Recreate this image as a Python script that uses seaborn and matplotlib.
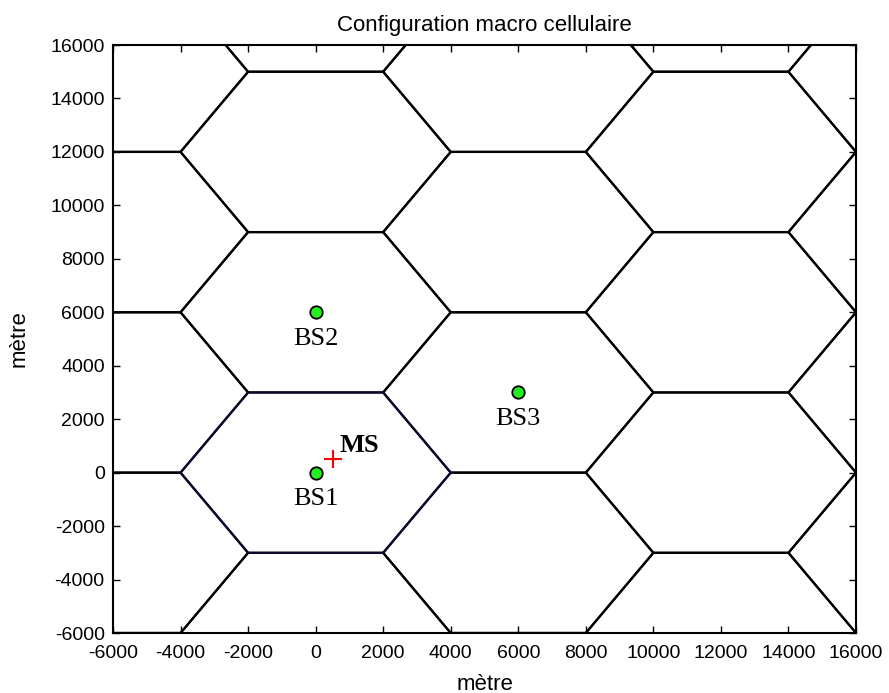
import numpy as np
import pandas as pd
import matplotlib
matplotlib.use("Agg")
import matplotlib.pyplot as plt
import seaborn as sns

# ---- data ----
hex_radius = 4000          # half width of a cell (flat-top)
hex_half_height = 3000     # half height of a cell
col_x_even = [0, 12000]
rows_even = [-6000, 0, 6000, 12000, 18000]
col_x_odd = [-6000, 6000, 18000]
rows_odd = [-9000, -3000, 3000, 9000, 15000]

bs_names = ["BS1", "BS2", "BS3"]
bs_x = [0, 0, 6000]
bs_y = [0, 6000, 3000]
ms_x = [500]
ms_y = [500]
ms_name = "MS"

ticks = list(range(-6000, 16001, 2000))

# ---- build hexagon vertex table ----
centers = [(x, y) for x in col_x_even for y in rows_even] + \
          [(x, y) for x in col_x_odd for y in rows_odd]
dx = [-hex_radius, -hex_radius / 2, hex_radius / 2, hex_radius, hex_radius / 2, -hex_radius / 2, -hex_radius]
dy = [0, hex_half_height, hex_half_height, 0, -hex_half_height, -hex_half_height, 0]
rows = []
for i, (cx, cy) in enumerate(centers):
    for j in range(len(dx)):
        rows.append({"cell": i, "order": j, "x": cx + dx[j], "y": cy + dy[j],
                     "home": (cx, cy) == (bs_x[0], bs_y[0])})
hexdf = pd.DataFrame(rows)

sns.set_style("ticks")
plt.rcParams["font.family"] = ["Liberation Sans", "DejaVu Sans"]
plt.rcParams["axes.unicode_minus"] = False
plt.rcParams["xtick.direction"] = "in"
plt.rcParams["ytick.direction"] = "in"
plt.rcParams["text.color"] = "black"
plt.rcParams["axes.labelcolor"] = "black"

fig = plt.figure(figsize=(8.89, 6.93), dpi=100)
ax = fig.add_axes([113 / 889, 1 - 633 / 693, (856 - 113) / 889, (633 - 45) / 693])

sns.lineplot(data=hexdf[~hexdf.home], x="x", y="y", units="cell", estimator=None,
             sort=False, color="black", linewidth=1.6, ax=ax)
sns.lineplot(data=hexdf[hexdf.home], x="x", y="y", units="cell", estimator=None,
             sort=False, color="#0a0a2e", linewidth=1.6, ax=ax)

bsdf = pd.DataFrame({"x": bs_x, "y": bs_y, "name": bs_names})
sns.scatterplot(data=bsdf, x="x", y="y", color="#22ee22", edgecolor="black",
                linewidth=1.3, s=80, ax=ax, zorder=5)
sns.scatterplot(x=ms_x, y=ms_y, marker="+", color="red", s=180, linewidth=1.5, ax=ax, zorder=6)

for n, x, y in zip(bs_names, bs_x, bs_y):
    ax.text(x, y - 1000, n, ha="center", va="center", fontsize=19, color="black",
            family=["Liberation Serif", "DejaVu Serif"], zorder=7)
ax.text(ms_x[0] + 200, ms_y[0] + 500, ms_name, ha="left", va="center", fontsize=19,
        color="black", fontweight="bold", family=["Liberation Serif", "DejaVu Serif"], zorder=7)

ax.set_xlim(-6000, 16000)
ax.set_ylim(-6000, 16000)
ax.set_xticks(ticks)
ax.set_yticks(ticks)
ax.tick_params(axis="both", which="both", direction="in", length=5, width=1,
               labelsize=14, top=True, right=True, colors="black")
ax.tick_params(axis="x", pad=9)
ax.tick_params(axis="y", pad=6)
for sp in ax.spines.values():
    sp.set_visible(True)
    sp.set_linewidth(1.5)
    sp.set_color("black")
ax.set_title("Configuration macro cellulaire", fontsize=16, pad=10, color="black")
ax.set_xlabel("mètre", fontsize=16, labelpad=8, color="black")
ax.set_ylabel("mètre", fontsize=16, labelpad=15, color="black")

fig.savefig("out.png", dpi=100)
